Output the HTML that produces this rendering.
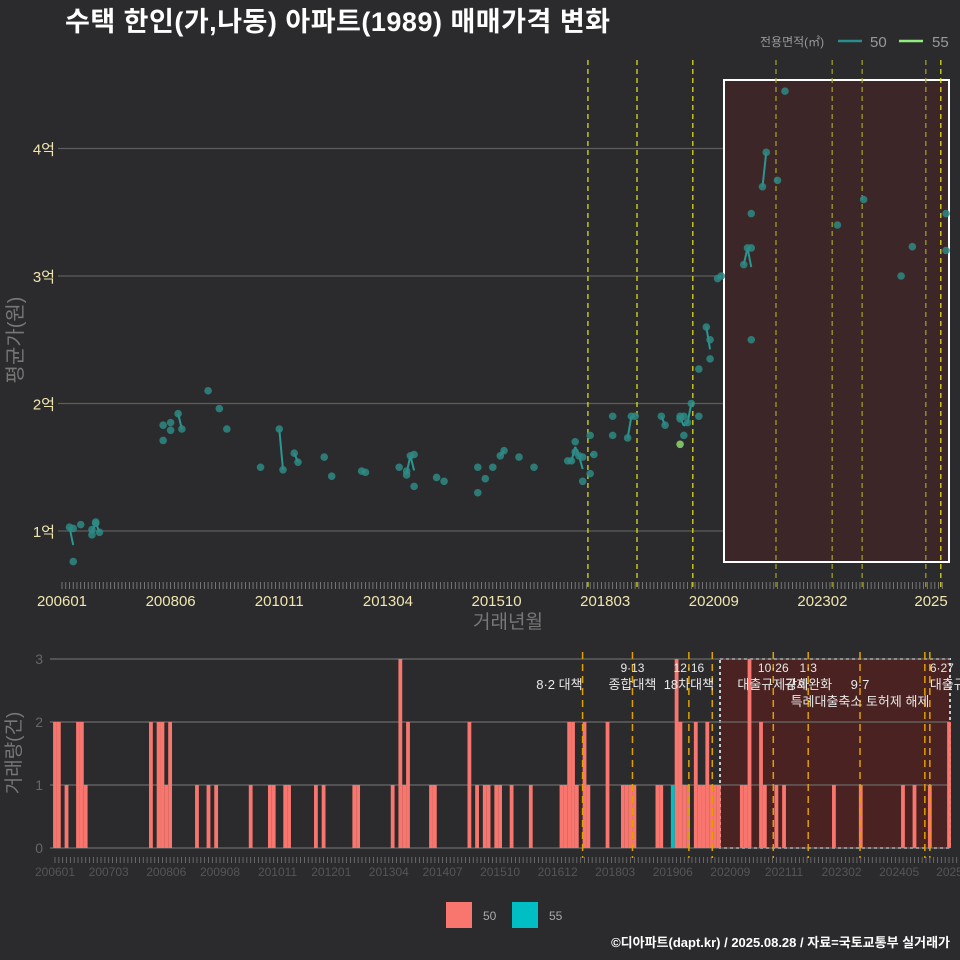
<!DOCTYPE html>
<html><head><meta charset="utf-8">
<style>
html,body{margin:0;padding:0;background:#2b2b2d;}
svg{display:block;font-family:"Liberation Sans","Noto Sans CJK KR",sans-serif;}
</style></head>
<body>
<svg id="chart" width="960" height="960" viewBox="0 0 960 960">
<rect x="0" y="0" width="960" height="960" fill="#2b2b2d"/>
<text x="65" y="31" fill="#ffffff" font-size="27" font-weight="bold" textLength="545">수택 한인(가,나동) 아파트(1989) 매매가격 변화</text>
<g id="legend-top">
<text x="760" y="46" fill="#999" font-size="12">전용면적(㎡)</text>
<line x1="838" y1="41" x2="862" y2="41" stroke="#2a8f8c" stroke-width="2.5"/>
<text x="870" y="47" fill="#999" font-size="15">50</text>
<line x1="899" y1="41" x2="923" y2="41" stroke="#90ee80" stroke-width="2.5"/>
<text x="932" y="47" fill="#999" font-size="15">55</text>
</g>
<g id="toppanel"></g>
<g id="bottompanel"></g>
<g>
<rect x="446" y="902" width="26" height="26" fill="#f8766d"/>
<text x="483" y="920" fill="#aaa" font-size="12">50</text>
<rect x="512" y="902" width="26" height="26" fill="#00bfc4"/>
<text x="549" y="920" fill="#aaa" font-size="12">55</text>
</g>
<text x="950" y="947" text-anchor="end" fill="#ffffff" font-size="13" font-weight="bold">©디아파트(dapt.kr) / 2025.08.28 / 자료=국토교통부 실거래가</text>
</svg>
<script>
// ---- data (month index from 2006-01, price in 억) ----
const tMonths50 = [2,3,3,5,8,8,9,9,10,27,27,29,29,31,32,39,42,44,53,58,59,62,63,70,72,80,81,90,92,92,93,94,94,100,102,111,111,113,115,117,118,122,126,135,136,137,137,138,139,139,141,141,142,147,147,151,152,153,160,161,165,165,166,166,167,168,170,170,172,173,173,175,176,182,183,184,184,184,187,188,191,193,207,214,224,227,236,236];
const tPrices50 = [1.03,1.02,0.76,1.05,1.01,0.97,1.07,1.06,0.99,1.83,1.71,1.85,1.79,1.92,1.80,2.10,1.96,1.80,1.50,1.80,1.48,1.61,1.54,1.58,1.43,1.47,1.46,1.50,1.44,1.47,1.59,1.60,1.35,1.42,1.39,1.50,1.30,1.41,1.50,1.59,1.63,1.58,1.50,1.55,1.55,1.70,1.62,1.59,1.39,1.58,1.75,1.45,1.60,1.90,1.75,1.73,1.90,1.90,1.90,1.83,1.90,1.88,1.90,1.75,1.85,2.00,1.90,2.27,2.60,2.50,2.35,2.98,3.00,3.09,3.22,3.22,2.50,3.49,3.70,3.97,3.75,4.45,3.40,3.60,3.00,3.23,3.49,3.20];
const tMonths55 = [165];
const tPrices55 = [1.68];
const yTicks = [1,2,3,4];
const yTickLabels = ["1억","2억","3억","4억"];
const xTickMonths = [0,29,58,87,116,145,174,203,232];
const xTickLabels = ["200601","200806","201011","201304","201510","201803","202009","202302","2025"];
const policyMonths = [140.4,153.5,168.4,190.6,205.6,213.6,230.6,234.6];
// bottom
const vMonths50 = [0,1,3,6,7,8,25,27,28,29,30,37,40,42,51,56,57,60,61,68,70,78,79,88,90,91,92,98,99,108,110,112,113,115,116,119,124,132,133,134,135,136,138,139,144,148,149,150,151,157,158,162,163,164,165,167,168,169,170,171,172,173,179,180,181,184,185,188,190,203,210,221,224,228,233];
const vCounts50 = [2,2,1,2,2,1,2,2,2,1,2,1,1,1,1,1,1,1,1,1,1,1,1,1,3,1,2,1,1,2,1,1,1,1,1,1,1,1,1,2,2,1,2,1,2,1,1,1,1,1,1,3,2,1,1,2,1,1,2,1,1,1,1,1,3,2,1,1,1,1,1,1,1,1,2];
const vMonths55 = [161];
const vCounts55 = [1];
const vYTicks = [0,1,2,3];
const vXTickMonths = [0,14,29,43,58,72,87,101,116,131,146,161,176,190,205,220,234];
const vXTickLabels = ["200601","200703","200806","200908","201011","201201","201304","201407","201510","201612","201803","201906","202009","202111","202302","202405","20250"];
const vPolicyMonths = [137.5,150.5,165.2,171.3,187.2,196.3,209.8,226.7,228];
const annotations = [
 {m:137.5,lines:["","8·2 대책"],anchor:"end"},{m:150.5,lines:["9·13","종합대책"],anchor:"middle"},{m:165.2,lines:["12·16","18차대책"],anchor:"middle"},
 {m:187.2,lines:["10·26","대출규제강화"],anchor:"middle"},{m:196.3,lines:["1·3","규제완화"],anchor:"middle"},{m:209.8,lines:["","9·7","특례대출축소 토허제 해제"],anchor:"middle"},{m:228,lines:["6·27","대출규"],anchor:"start"}
];
const NS="http://www.w3.org/2000/svg";
function mk(parent,tag,attrs){const e=document.createElementNS(NS,tag);for(const k in attrs)e.setAttribute(k,attrs[k]);parent.appendChild(e);return e;}
// ---- top panel ----
const tp=document.getElementById('toppanel');
const tx=m=>62+m*3.746, ty=p=>531-(p-1)*127.5;
for(let i=0;i<yTicks.length;i++){
 const g=mk(tp,'line',{x1:58,x2:950,y1:ty(yTicks[i]),y2:ty(yTicks[i]),stroke:'#5e5e5e','stroke-width':1.2});
 
 
 const t=mk(tp,'text',{x:55,y:ty(yTicks[i])+6,'text-anchor':'end',fill:'#f0e6b0','font-size':15});
 t.textContent=yTickLabels[i];
 
 
}
const shade=mk(tp,'rect',{x:724,y:80,width:225,height:482,fill:'#3d2627',stroke:'#ffffff','stroke-width':2});


for(let m=0;m<236;m++){const l=mk(tp,'line',{x1:tx(m),x2:tx(m),y1:582,y2:589,stroke:'#888','stroke-width':0.8});
 
 }
policyMonths.forEach((m,i)=>{const c=(i<3||i===7)?'#e8e820':'#a5a525';
 const l=mk(tp,'line',{x1:tx(m),x2:tx(m),y1:60,y2:590,stroke:c,'stroke-width':1.2,'stroke-dasharray':'5,4'});
 
 });
function drawSeries(months,prices,color,ptColor,name){
 const avg={};months.forEach((m,i)=>{(avg[m]=avg[m]||[]).push(prices[i]);});
 const ks=Object.keys(avg).map(Number).sort((a,b)=>a-b);
 for(let i=0;i<ks.length-1;i++){if(ks[i+1]-ks[i]===1){
  const a=avg[ks[i]].reduce((s,v)=>s+v,0)/avg[ks[i]].length,b=avg[ks[i+1]].reduce((s,v)=>s+v,0)/avg[ks[i+1]].length;
  const l=mk(tp,'line',{x1:tx(ks[i]),y1:ty(a),x2:tx(ks[i+1]),y2:ty(b),stroke:color,'stroke-width':2});
  
  }}
 months.forEach((m,i)=>{const c=mk(tp,'circle',{cx:tx(m),cy:ty(prices[i]),r:3.8,fill:ptColor,'fill-opacity':0.85});
  
  });
}
drawSeries(tMonths50,tPrices50,'#2a9792','#2e8a85','series-50');
drawSeries(tMonths55,tPrices55,'#8fd870','#8fd870','series-55');
xTickMonths.forEach((m,i)=>{const t=mk(tp,'text',{x:tx(m),y:606,'text-anchor':'middle',fill:'#f0e6b0','font-size':15});
 t.textContent=xTickLabels[i];
 
 });
let t1=mk(tp,'text',{x:508,y:628,'text-anchor':'middle',fill:'#777','font-size':19});t1.textContent='거래년월';


let t2=mk(tp,'text',{x:22,y:340,'text-anchor':'middle',fill:'#777','font-size':20,transform:'rotate(-90 22 340)'});t2.textContent='평균가(원)';


// ---- bottom panel ----
const bp=document.getElementById('bottompanel');
const bx=m=>55+m*3.837, by=c=>848-c*63;
const bshade=mk(bp,'rect',{x:720,y:659,width:230,height:189,fill:'#4a2222',stroke:'#cccccc','stroke-width':2,'stroke-dasharray':'3,3'});


vYTicks.forEach(v=>{const l=mk(bp,'line',{x1:50,x2:950,y1:by(v),y2:by(v),stroke:'#6a6a6a','stroke-width':1.2});
 
 
 const t=mk(bp,'text',{x:43,y:by(v)+5,'text-anchor':'end',fill:'#666','font-size':14});t.textContent=v;
 
 });
function bars(months,counts,color,name){months.forEach((m,i)=>{const r=mk(bp,'rect',{x:bx(m)-1.9,y:by(counts[i]),width:3.8,height:counts[i]*63,fill:color});
 
 });}
bars(vMonths50,vCounts50,'#f8766d','volume-bar-50');
bars(vMonths55,vCounts55,'#00bfc4','volume-bar-55');
vPolicyMonths.forEach(m=>{const l=mk(bp,'line',{x1:bx(m),x2:bx(m),y1:652,y2:858,stroke:'#e0a000','stroke-width':1.5,'stroke-dasharray':'7,5'});
 
 });
annotations.forEach(a=>{a.lines.forEach((s,j)=>{if(!s)return;const t=mk(bp,'text',{x:bx(a.m),y:672+j*17,'text-anchor':a.anchor,fill:'#e8e8e8','font-size':j==0?12:13});t.textContent=s;
 
 });});
for(let m=0;m<236;m++){const l=mk(bp,'line',{x1:bx(m),x2:bx(m),y1:857,y2:863,stroke:'#777','stroke-width':0.8});
 
 }
vXTickLabels.forEach((s,i)=>{const t=mk(bp,'text',{x:bx(vXTickMonths[i]),y:876,'text-anchor':'middle',fill:'#555','font-size':12});t.textContent=s;
 
 });
let t3=mk(bp,'text',{x:20,y:753,'text-anchor':'middle',fill:'#777','font-size':19,transform:'rotate(-90 20 753)'});t3.textContent='거래량(건)';


</script>
</body></html>
